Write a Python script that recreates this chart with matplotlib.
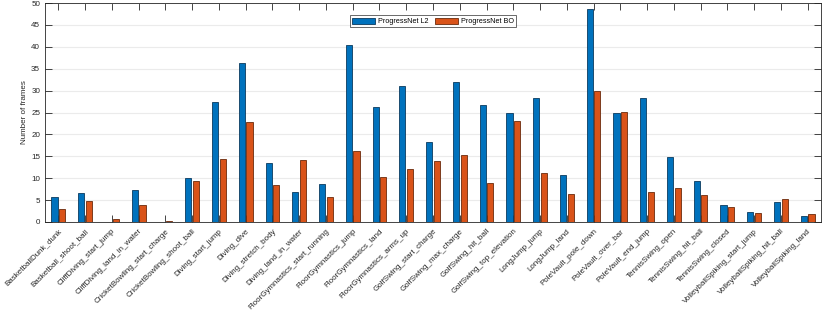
import matplotlib
matplotlib.use("Agg")
import matplotlib.pyplot as plt
import numpy as np

plt.rcParams['font.family'] = ['Liberation Sans', 'DejaVu Sans']

categories = [
    "BasketballDunk_dunk", "Basketball_shoot_ball", "CliffDiving_start_jump",
    "CliffDiving_land_in_water", "CricketBowling_start_charge", "CricketBowling_shoot_ball",
    "Diving_start_jump", "Diving_dive", "Diving_stretch_body", "Diving_land_in_water",
    "FloorGymnastics_start_running", "FloorGymnastics_jump", "FloorGymnastics_land",
    "FloorGymnastics_arms_up", "GolfSwing_start_charge", "GolfSwing_max_charge",
    "GolfSwing_hit_ball", "GolfSwing_top_elevation", "LongJump_jump", "LongJump_land",
    "PoleVault_pole_down", "PoleVault_over_bar", "PoleVault_end_jump", "TennisSwing_open",
    "TennisSwing_hit_ball", "TennisSwing_closed", "VolleyballSpiking_start_jump",
    "VolleyballSpiking_hit_ball", "VolleyballSpiking_land",
]
progressnet_l2 = [5.8, 6.7, 0.1, 7.3, 0.05, 10.0, 27.5, 36.3, 13.5, 6.9,
                  8.7, 40.5, 26.3, 31.0, 18.3, 31.9, 26.6, 25.0, 28.2, 10.7,
                  48.7, 24.9, 28.2, 14.9, 9.3, 3.9, 2.3, 4.6, 1.4]
progressnet_bo = [2.9, 4.9, 0.7, 3.9, 0.3, 9.4, 14.4, 22.9, 8.4, 14.2,
                  5.8, 16.3, 10.3, 12.2, 14.0, 15.3, 9.0, 23.1, 11.2, 6.5,
                  30.0, 25.1, 6.8, 7.8, 6.2, 3.4, 2.1, 5.3, 1.9]
series_labels = ["ProgressNet L2", "ProgressNet BO"]
yticks = list(range(0, 51, 5))

fig = plt.figure(figsize=(8.22, 3.15), dpi=100)
ax = fig.add_axes([45/822, 1-222/315, (821-45)/822, (222-3)/315])

x = np.arange(1, len(categories) + 1)
w = 0.229
off = 0.143
ax.bar(x - off, progressnet_l2, w, color='#0072BD', edgecolor='#0b3a5e', linewidth=0.6,
       label=series_labels[0], zorder=3)
ax.bar(x + off, progressnet_bo, w, color='#D95319', edgecolor='#6b2a0c', linewidth=0.6,
       label=series_labels[1], zorder=3)

ax.set_xlim(0.5, len(categories) + 0.5)
ax.set_ylim(0, 50)
ax.set_yticks(yticks)
ax.set_xticks(x)
ax.set_xticklabels(categories, rotation=45, ha='right', va='top', rotation_mode='anchor',
                   fontsize=5.8, color='#262626')
ax.tick_params(axis='y', labelsize=5.8, labelcolor='#262626')
ax.tick_params(direction='in', length=5, width=0.6, color='#262626',
               top=True, right=True, bottom=True, left=True)
ax.tick_params(axis='x', pad=4)
ax.yaxis.grid(True, color='#ebebeb', linewidth=0.8, zorder=0)
ax.set_axisbelow(True)
for s in ax.spines.values():
    s.set_color('#262626')
    s.set_linewidth(0.6)
ax.set_ylabel("Number of frames", fontsize=5.8, color='#262626', labelpad=2)

leg = ax.legend(loc='upper center', ncol=2, fontsize=5.2, frameon=True, fancybox=False,
                edgecolor='#262626', handlelength=3.2, handleheight=0.9,
                columnspacing=1.0, borderpad=0.3, handletextpad=0.3,
                bbox_to_anchor=(0.5, 0.96))
leg.get_frame().set_linewidth(0.6)

fig.savefig("out.png", dpi=100)
